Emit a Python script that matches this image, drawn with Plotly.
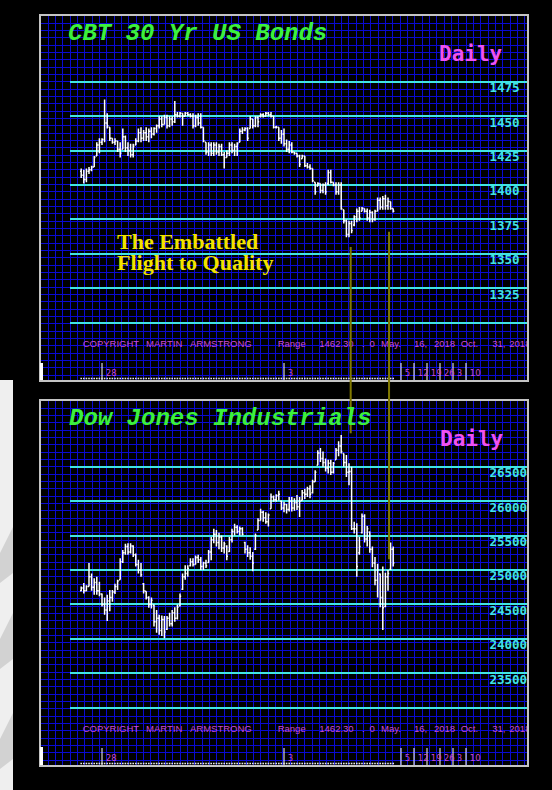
import plotly.graph_objects as go

# ---------------- data ----------------
# weekday index, 0 = May 16 2018 ... 120 = Oct 31 2018
days = list(range(121))

bond_high = [1412, 1411, 1412, 1413, 1414, 1421, 1431, 1434, 1434, 1462,
             1452, 1442, 1434, 1434, 1432, 1431, 1441, 1436, 1431, 1430,
             1430, 1434, 1441, 1442, 1440, 1442, 1441, 1442, 1442, 1444,
             1450, 1450, 1451, 1451, 1450, 1450, 1461, 1453, 1453, 1452,
             1453, 1453, 1452, 1452, 1451, 1452, 1452, 1442, 1431, 1431,
             1431, 1431, 1431, 1430, 1430, 1424, 1425, 1431, 1431, 1430,
             1431, 1441, 1442, 1442, 1442, 1450, 1448, 1450, 1450, 1452,
             1452, 1453, 1453, 1453, 1450, 1443, 1442, 1440, 1441, 1433,
             1432, 1431, 1424, 1423, 1422, 1422, 1421, 1416, 1415, 1412,
             1402, 1402, 1401, 1401, 1402, 1411, 1411, 1402, 1402, 1402,
             1402, 1382, 1375, 1374, 1374, 1378, 1383, 1384, 1384, 1383,
             1383, 1382, 1381, 1382, 1391, 1391, 1392, 1393, 1391, 1388,
             1383]
bond_low = [1405, 1401, 1402, 1408, 1410, 1413, 1421, 1423, 1429, 1431,
            1441, 1432, 1430, 1429, 1424, 1420, 1426, 1424, 1421, 1420,
            1420, 1429, 1431, 1431, 1432, 1432, 1431, 1434, 1436, 1438,
            1441, 1442, 1444, 1441, 1442, 1443, 1445, 1449, 1449, 1443,
            1450, 1450, 1449, 1441, 1442, 1443, 1441, 1431, 1422, 1421,
            1421, 1421, 1422, 1421, 1421, 1412, 1420, 1421, 1423, 1421,
            1421, 1431, 1437, 1439, 1432, 1441, 1441, 1442, 1442, 1449,
            1449, 1450, 1450, 1449, 1441, 1441, 1432, 1430, 1428, 1424,
            1423, 1423, 1422, 1420, 1413, 1419, 1413, 1412, 1411, 1402,
            1393, 1399, 1394, 1394, 1393, 1400, 1401, 1399, 1393, 1393,
            1382, 1372, 1362, 1362, 1365, 1370, 1373, 1374, 1381, 1380,
            1374, 1373, 1373, 1374, 1381, 1382, 1382, 1382, 1382, 1382,
            1380]
bond_open = [1410, 1407, 1404, 1410, 1411, 1413, 1421, 1429, 1431, 1433,
             1445, 1442, 1434, 1431, 1432, 1426, 1426, 1435, 1427, 1425,
             1422, 1429, 1432, 1438, 1434, 1438, 1435, 1439, 1437, 1441,
             1443, 1448, 1444, 1449, 1443, 1448, 1446, 1451, 1450, 1452,
             1450, 1452, 1451, 1450, 1443, 1449, 1445, 1442, 1431, 1424,
             1429, 1423, 1429, 1424, 1428, 1422, 1420, 1423, 1429, 1425,
             1428, 1431, 1439, 1440, 1441, 1441, 1448, 1443, 1449, 1450,
             1451, 1450, 1452, 1451, 1450, 1442, 1442, 1434, 1437, 1430,
             1426, 1429, 1424, 1423, 1421, 1419, 1421, 1414, 1413, 1412,
             1402, 1399, 1401, 1396, 1400, 1401, 1409, 1402, 1400, 1395,
             1400, 1382, 1374, 1364, 1372, 1371, 1377, 1381, 1381, 1383,
             1381, 1376, 1380, 1375, 1381, 1389, 1384, 1390, 1385, 1388,
             1383]
bond_close = [1407, 1404, 1410, 1411, 1413, 1420, 1429, 1431, 1433, 1445,
              1443, 1434, 1431, 1432, 1426, 1423, 1435, 1427, 1425, 1422,
              1428, 1432, 1438, 1434, 1438, 1435, 1439, 1437, 1441, 1443,
              1448, 1444, 1449, 1443, 1448, 1446, 1451, 1450, 1452, 1450,
              1452, 1451, 1450, 1443, 1449, 1445, 1442, 1432, 1424, 1429,
              1423, 1429, 1424, 1428, 1422, 1420, 1423, 1429, 1425, 1428,
              1430, 1439, 1440, 1441, 1434, 1448, 1443, 1449, 1446, 1451,
              1450, 1452, 1451, 1450, 1442, 1442, 1434, 1437, 1430, 1426,
              1429, 1424, 1423, 1421, 1415, 1421, 1414, 1413, 1412, 1403,
              1395, 1401, 1396, 1400, 1395, 1409, 1402, 1400, 1395, 1400,
              1383, 1374, 1364, 1372, 1367, 1377, 1381, 1376, 1383, 1381,
              1376, 1380, 1375, 1381, 1389, 1384, 1390, 1385, 1388, 1383,
              1381]

dow_high = [24760, 24810, 24780, 25100, 24950, 24880, 24900, 24830, 24660, 24600,
            24640, 24710, 24710, 24800, 24860, 25170, 25290, 25380, 25390, 25390,
            25360, 25240, 25150, 25100, 24810, 24690, 24620, 24600, 24500, 24420,
            24350, 24340, 24330, 24330, 24380, 24420, 24460, 24500, 24660, 24950,
            25070, 25070, 25170, 25170, 25210, 25220, 25190, 25120, 25150, 25290,
            25480, 25600, 25580, 25540, 25500, 25410, 25360, 25480, 25600, 25670,
            25650, 25630, 25620, 25410, 25360, 25330, 25260, 25530, 25750, 25890,
            25860, 25840, 25820, 26110, 26080, 26100, 26150, 26010, 25990, 25960,
            26060, 26060, 26040, 26090, 26060, 26160, 26180, 26210, 26230, 26310,
            26450, 26740, 26770, 26720, 26620, 26600, 26600, 26570, 26770, 26870,
            26960, 26690, 26670, 26550, 26500, 25700, 25680, 25480, 25820, 25810,
            25640, 25560, 25340, 25190, 25090, 24950, 25050, 24960, 25000, 25400,
            25340]
dow_low = [24690, 24660, 24690, 24760, 24700, 24640, 24640, 24620, 24470, 24350,
           24260, 24400, 24540, 24650, 24710, 24860, 25100, 25220, 25220, 25240,
           25190, 25050, 24950, 24900, 24660, 24570, 24450, 24440, 24180, 24090,
           24060, 24040, 24010, 24130, 24180, 24180, 24250, 24280, 24470, 24710,
           24860, 24900, 25050, 25050, 25080, 25100, 25000, 25000, 25030, 25100,
           25140, 25390, 25340, 25300, 25260, 25240, 25140, 25260, 25400, 25500,
           25530, 25500, 25500, 25240, 25190, 25150, 24980, 25290, 25580, 25720,
           25700, 25670, 25630, 25890, 25990, 25990, 26010, 25870, 25840, 25820,
           25850, 25850, 25860, 25870, 25770, 26010, 26030, 26060, 26040, 26110,
           26280, 26520, 26570, 26500, 26430, 26400, 26380, 26400, 26600, 26650,
           26690, 26500, 26350, 26230, 25580, 25530, 24900, 25220, 25530, 25400,
           25340, 25250, 25040, 24780, 24600, 24460, 24130, 24460, 24700, 25000,
           25050]
dow_open = [24700, 24740, 24700, 24760, 24900, 24750, 24820, 24700, 24650, 24500,
            24420, 24550, 24600, 24680, 24760, 24860, 25120, 25250, 25340, 25260,
            25350, 25220, 25080, 25000, 24800, 24690, 24600, 24500, 24490, 24250,
            24300, 24120, 24280, 24140, 24300, 24220, 24380, 24300, 24480, 24720,
            24900, 24950, 25060, 25120, 25080, 25180, 25150, 25050, 25100, 25110,
            25260, 25440, 25520, 25400, 25480, 25320, 25350, 25270, 25440, 25560,
            25620, 25560, 25600, 25400, 25300, 25250, 25200, 25300, 25580, 25720,
            25840, 25760, 25700, 25890, 26060, 26020, 26080, 26000, 25900, 25950,
            25880, 26000, 25900, 25980, 25920, 26010, 26120, 26100, 26180, 26120,
            26280, 26520, 26700, 26620, 26560, 26480, 26550, 26420, 26600, 26740,
            26800, 26690, 26560, 26420, 26430, 25600, 25600, 25250, 25540, 25780,
            25450, 25550, 25300, 25100, 24850, 24940, 24600, 24470, 24900, 25010,
            25300]
dow_close = [24740, 24700, 24760, 24900, 24750, 24820, 24700, 24650, 24500, 24420,
             24550, 24600, 24680, 24760, 24840, 25120, 25250, 25340, 25260, 25350,
             25220, 25080, 25000, 24930, 24700, 24600, 24500, 24560, 24250, 24300,
             24120, 24280, 24100, 24300, 24220, 24380, 24300, 24460, 24620, 24900,
             24950, 25020, 25120, 25080, 25180, 25150, 25050, 25100, 25060, 25260,
             25440, 25520, 25400, 25480, 25320, 25380, 25200, 25440, 25560, 25620,
             25560, 25600, 25520, 25300, 25250, 25200, 25100, 25500, 25720, 25840,
             25760, 25700, 25800, 26060, 26020, 26080, 26100, 25900, 25950, 25880,
             26000, 25900, 25980, 25920, 26000, 26120, 26100, 26180, 26100, 26280,
             26420, 26700, 26620, 26560, 26480, 26550, 26420, 26550, 26740, 26800,
             26720, 26560, 26420, 26430, 25600, 25600, 25050, 25340, 25780, 25450,
             25600, 25300, 25100, 24850, 25000, 24600, 24450, 24900, 24950, 25300,
             25100]

bond_levels = [1475, 1450, 1425, 1400, 1375, 1350, 1325, 1300]
bond_level_text = ["1475", "1450", "1425", "1400", "1375", "1350", "1325", ""]
dow_levels = [26500, 26000, 25500, 25000, 24500, 24000, 23500, 23000]
dow_level_text = ["26500", "26000", "25500", "25000", "24500", "24000", "23500", ""]

date_tick_days = [8, 78, 123, 128, 133, 138, 143, 148]
date_tick_text = ["28", "3", "5", "12", "19", "26", "3", "10"]

connector_day = [103.65, 118.4]
connector_bond = [1355, 1366]
connector_dow = [26985, 25155]

copyright_pieces = ["COPYRIGHT", "MARTIN", "ARMSTRONG", "Range", "1462.30", ".", "0",
                    "May.", "16,", "2018", "Oct.", "31,", "2018"]

# ---------------- layout constants (pixels) ----------------
W, H = 552, 790
PL, PR = 41, 527
DATA_L = 70
P1T, P1B = 16, 380
P2T, P2B = 401, 765
GRID = 7.33
TICK_LEN = 17


def fx(px):
    return px / W


def fy(py):
    return 1 - py / H


# price scales (pixel position of a reference level and px per unit)
bond_ref_px, bond_ppu = 81.7, 241.0 / 175.0
dow_ref_px, dow_ppu = 466.7, 241.0 / 3500.0
bond_range = [1475 - (P1B - bond_ref_px) / bond_ppu, 1475 + (bond_ref_px - P1T) / bond_ppu]
dow_range = [26500 - (P2B - dow_ref_px) / dow_ppu, 26500 + (dow_ref_px - P2T) / dow_ppu]
day_px0, day_ppu = 102.0, 2.6
x_range = [8 + (DATA_L - day_px0) / day_ppu, 8 + (PR - day_px0) / day_ppu]

CYAN = "#40E4E4"
GRIDBLUE = "#0A0AD2"
BORDER = "#C4C4C4"
MAGENTA = "#CC4ACC"

fig = go.Figure()

copy_x = [82.7, 146.0, 190.0, 277.7, 319.3, 362.0, 369.5, 381.0, 414.0, 434.0,
          460.7, 492.3, 509.3]
for xa, ya, ypos in (("x", "y", 345), ("x2", "y2", 730)):
    fig.add_trace(go.Scatter(
        x=copy_x, y=[ypos] * len(copy_x), text=copyright_pieces, mode="text",
        textposition="middle right", cliponaxis=True, xaxis=xa, yaxis=ya,
        textfont=dict(family="Liberation Sans", size=9.5, color=MAGENTA),
        hoverinfo="skip", showlegend=False))

bar_line = dict(color="white", width=1.5)
fig.add_trace(go.Ohlc(
    x=days, open=bond_open, high=bond_high, low=bond_low, close=bond_close,
    increasing=dict(line=bar_line), decreasing=dict(line=bar_line),
    tickwidth=0.45, xaxis="x3", yaxis="y3", hoverinfo="skip", showlegend=False))
fig.add_trace(go.Ohlc(
    x=days, open=dow_open, high=dow_high, low=dow_low, close=dow_close,
    increasing=dict(line=bar_line), decreasing=dict(line=bar_line),
    tickwidth=0.45, xaxis="x4", yaxis="y4", hoverinfo="skip", showlegend=False))

# date ticks + labels in the bottom strip of each panel, and the day dots
label_dx = 3.8 / day_ppu
panels = (("x3", "y3", bond_range, bond_ppu), ("x4", "y4", dow_range, dow_ppu))
for xa, ya, rng, ppu in panels:
    y_bot = rng[0]
    y_top = rng[0] + TICK_LEN / ppu
    tx, ty = [], []
    for d in date_tick_days:
        tx += [d, d, None]
        ty += [y_bot, y_top, None]
    fig.add_trace(go.Scatter(
        x=tx, y=ty, mode="lines", line=dict(color="white", width=1),
        cliponaxis=False, xaxis=xa, yaxis=ya, hoverinfo="skip", showlegend=False))
    fig.add_trace(go.Scatter(
        x=[d + label_dx for d in date_tick_days],
        y=[rng[0] + 6.5 / ppu] * len(date_tick_days),
        text=date_tick_text, mode="text", textposition="middle right",
        cliponaxis=False, xaxis=xa, yaxis=ya,
        textfont=dict(family="DejaVu Sans", size=8.5, color=MAGENTA),
        hoverinfo="skip", showlegend=False))
    fig.add_trace(go.Scatter(
        x=days, y=[rng[0] + 1.5 / ppu] * len(days), mode="markers",
        marker=dict(symbol="square", size=1.6, color="#E8E8E8", line_width=0),
        cliponaxis=False, xaxis=xa, yaxis=ya, hoverinfo="skip", showlegend=False))

grid_axis = dict(showgrid=True, gridcolor=GRIDBLUE, gridwidth=1, dtick=GRID,
                 zeroline=False, showticklabels=False, ticks="", showline=True,
                 linecolor=BORDER, linewidth=2, mirror=True, fixedrange=True)

date_axis = dict(domain=[fx(DATA_L), fx(PR)], range=x_range, showgrid=False,
                 zeroline=False, showticklabels=False, ticks="",
                 rangeslider=dict(visible=False), showline=False, fixedrange=True)

level_axis = dict(side="left", anchor="free", position=fx(485.5), showgrid=True,
                  gridcolor=CYAN, gridwidth=2, zeroline=False, ticks="",
                  tickmode="array", ticklabelposition="inside", ticklabelshift=6,
                  tickfont=dict(family="DejaVu Sans Mono", size=12.5, color=CYAN,
                                weight="bold"),
                  showline=False, fixedrange=True)

fig.update_layout(
    width=W, height=H, autosize=False,
    margin=dict(l=0, r=0, t=0, b=0, pad=0),
    paper_bgcolor="black", plot_bgcolor="rgba(0,0,0,0)",
    showlegend=False,
    xaxis=dict(domain=[fx(PL), fx(PR)], range=[PL, PR], tick0=PL, anchor="y", **grid_axis),
    yaxis=dict(domain=[fy(P1B), fy(P1T)], range=[P1B, P1T], tick0=P1T, anchor="x", **grid_axis),
    xaxis2=dict(domain=[fx(PL), fx(PR)], range=[PL, PR], tick0=PL, anchor="y2", **grid_axis),
    yaxis2=dict(domain=[fy(P2B), fy(P2T)], range=[P2B, P2T], tick0=P2T, anchor="x2", **grid_axis),
    xaxis3=dict(anchor="y3", **date_axis),
    yaxis3=dict(domain=[fy(P1B), fy(P1T)], range=bond_range, tickvals=bond_levels,
                ticktext=bond_level_text, **level_axis),
    xaxis4=dict(anchor="y4", matches="x3", **date_axis),
    yaxis4=dict(domain=[fy(P2B), fy(P2T)], range=dow_range, tickvals=dow_levels,
                ticktext=dow_level_text, **level_axis),
)

title_font = dict(family="Liberation Mono", size=24, color="#3CF03C", weight="bold", style="italic")
daily_font = dict(family="DejaVu Sans Mono", size=21, color="#F052F0", weight="bold")
yellow_font = dict(family="Liberation Serif", size=22, color="#F2E200", weight="bold")

ann = [
    dict(text="CBT 30 Yr US Bonds", x=66, y=33, xref="x", yref="y", font=title_font),
    dict(text="Daily", x=437, y=54, xref="x", yref="y", font=daily_font),
    dict(text="The Embattled", x=115, y=241, xref="x", yref="y", font=yellow_font),
    dict(text="Flight to Quality", x=115, y=262, xref="x", yref="y", font=yellow_font),
    dict(text="Dow Jones Industrials", x=67, y=418, xref="x2", yref="y2", font=title_font),
    dict(text="Daily", x=438, y=439, xref="x2", yref="y2", font=daily_font),
]
for a in ann:
    fig.add_annotation(showarrow=False, xanchor="left", yanchor="middle", **a)


def bond_to_paper(p):
    py = P1T + (bond_range[1] - p) * bond_ppu
    return fy(py)


def dow_to_paper(p):
    py = P2T + (dow_range[1] - p) * dow_ppu
    return fy(py)


for d, b, dj in zip(connector_day, connector_bond, connector_dow):
    fig.add_shape(type="line", xref="x3", yref="paper", x0=d, x1=d,
                  y0=bond_to_paper(b), y1=dow_to_paper(dj),
                  line=dict(color="#827A00", width=2), layer="above")

# white left edge of the bottom strip of each panel
for top, bot in ((363, P1B), (747, P2B)):
    fig.add_shape(type="rect", xref="paper", yref="paper", x0=fx(40), x1=fx(43),
                  y0=fy(bot), y1=fy(top), fillcolor="white", line_width=0, layer="above")

# light page margin strip with grey chevrons on the far left
fig.add_shape(type="rect", xref="paper", yref="paper", x0=0, x1=fx(13),
              y0=0, y1=fy(380), fillcolor="#EFEFEF", line_width=0, layer="below")
for top in (527, 613, 713):
    path = "M {a},{b} L {c},{d} L {c},{e} L {a},{f} Z".format(
        a=fx(13), b=fy(top), c=0, d=fy(top + 26), e=fy(top + 56), f=fy(top + 46))
    fig.add_shape(type="path", xref="paper", yref="paper", path=path,
                  fillcolor="#D2D2D2", line_width=0, layer="below")

fig.write_html("out.html",
               config={"displayModeBar": False},
               post_script="document.body.style.margin='0';"
                           "document.body.style.background='black';")
